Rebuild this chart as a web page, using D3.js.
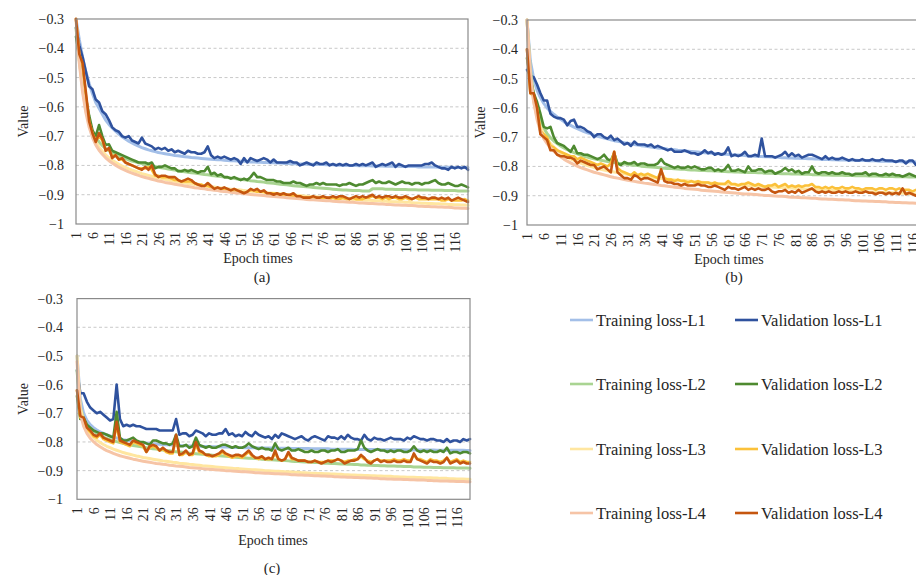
<!DOCTYPE html>
<html lang="en">
<head>
  <meta charset="UTF-8">
  <title>Training and validation loss</title>
  <script src="https://d3js.org/d3.v7.min.js"></script>
  <style>
    body {
      margin: 0;
      padding: 0;
      background: #fff;
    }
    svg text {
      font-family: "Liberation Serif", "Times New Roman", serif;
      fill: #262626;
    }
  </style>
</head>
<body>
  <svg id="chart" width="916" height="575"></svg>

  <script>
    const epochs = d3.range(1, 121);
    const xTickLabels = [1, 6, 11, 16, 21, 26, 31, 36, 41, 46, 51, 56, 61, 66, 71, 76, 81, 86, 91, 96, 101, 106, 111, 116];
    const yTicks = [-1, -0.9, -0.8, -0.7, -0.6, -0.5, -0.4, -0.3];
    const gridTicks = [-0.9, -0.8, -0.7, -0.6, -0.5, -0.4];

    const seriesNames = [
      "Training loss-L1", "Validation loss-L1",
      "Training loss-L2", "Validation loss-L2",
      "Training loss-L3", "Validation loss-L3",
      "Training loss-L4", "Validation loss-L4"
    ];
    const seriesColors = ["#a3bfe8", "#2f529e", "#a9d492", "#4e8a30", "#ffe6a0", "#fbc13a", "#f6c4a6", "#c5560f"];
    const panelLabels = ["(a)", "(b)", "(c)"];
    const serif = "'Liberation Serif', 'Times New Roman', serif";

    // ---- panel (a) ----
    const aTrain1 = [
      -0.300, -0.370, -0.430, -0.480, -0.520, -0.555, -0.585, -0.605, -0.625, -0.645,
      -0.660, -0.672, -0.683, -0.693, -0.702, -0.710, -0.717, -0.723, -0.729, -0.734,
      -0.739, -0.743, -0.747, -0.750, -0.753, -0.756, -0.758, -0.760, -0.762, -0.764,
      -0.766, -0.767, -0.769, -0.770, -0.771, -0.773, -0.774, -0.775, -0.776, -0.777,
      -0.778, -0.779, -0.780, -0.781, -0.781, -0.782, -0.783, -0.784, -0.784, -0.785,
      -0.786, -0.786, -0.787, -0.788, -0.788, -0.789, -0.789, -0.790, -0.790, -0.791,
      -0.791, -0.792, -0.792, -0.793, -0.793, -0.794, -0.794, -0.794, -0.795, -0.795,
      -0.796, -0.796, -0.796, -0.797, -0.797, -0.797, -0.798, -0.798, -0.798, -0.799,
      -0.799, -0.799, -0.800, -0.800, -0.800, -0.800, -0.801, -0.801, -0.801, -0.801,
      -0.802, -0.802, -0.802, -0.802, -0.803, -0.803, -0.803, -0.803, -0.803, -0.804,
      -0.804, -0.804, -0.804, -0.804, -0.805, -0.805, -0.805, -0.805, -0.805, -0.805,
      -0.806, -0.806, -0.806, -0.806, -0.806, -0.807, -0.807, -0.807, -0.807, -0.807
    ];
    const aValid1 = [
      -0.330, -0.390, -0.430, -0.480, -0.530, -0.540, -0.575, -0.585, -0.615, -0.625,
      -0.645, -0.670, -0.680, -0.685, -0.700, -0.705, -0.700, -0.715, -0.720, -0.725,
      -0.705, -0.725, -0.730, -0.735, -0.745, -0.740, -0.745, -0.740, -0.750, -0.745,
      -0.755, -0.750, -0.755, -0.760, -0.750, -0.755, -0.755, -0.760, -0.760, -0.755,
      -0.735, -0.765, -0.775, -0.770, -0.775, -0.770, -0.775, -0.780, -0.775, -0.780,
      -0.795, -0.775, -0.790, -0.775, -0.780, -0.785, -0.780, -0.775, -0.780, -0.790,
      -0.780, -0.790, -0.790, -0.790, -0.790, -0.785, -0.790, -0.790, -0.800, -0.795,
      -0.790, -0.795, -0.800, -0.790, -0.795, -0.795, -0.790, -0.800, -0.795, -0.800,
      -0.795, -0.800, -0.795, -0.800, -0.800, -0.795, -0.800, -0.795, -0.800, -0.795,
      -0.790, -0.805, -0.800, -0.795, -0.800, -0.795, -0.790, -0.805, -0.795, -0.800,
      -0.805, -0.800, -0.800, -0.800, -0.800, -0.800, -0.795, -0.795, -0.790, -0.800,
      -0.805, -0.810, -0.810, -0.815, -0.805, -0.810, -0.805, -0.810, -0.805, -0.815
    ];
    const aTrain2 = [
      -0.330, -0.440, -0.530, -0.600, -0.650, -0.685, -0.705, -0.720, -0.732, -0.742,
      -0.750, -0.757, -0.763, -0.768, -0.773, -0.777, -0.781, -0.785, -0.788, -0.791,
      -0.794, -0.797, -0.800, -0.802, -0.804, -0.806, -0.808, -0.810, -0.812, -0.814,
      -0.816, -0.818, -0.820, -0.822, -0.823, -0.825, -0.826, -0.828, -0.829, -0.831,
      -0.832, -0.834, -0.835, -0.837, -0.838, -0.840, -0.841, -0.843, -0.844, -0.846,
      -0.847, -0.849, -0.850, -0.852, -0.853, -0.855, -0.856, -0.857, -0.859, -0.860,
      -0.861, -0.863, -0.864, -0.865, -0.866, -0.868, -0.869, -0.870, -0.871, -0.872,
      -0.873, -0.874, -0.875, -0.876, -0.877, -0.878, -0.879, -0.880, -0.881, -0.882,
      -0.883, -0.884, -0.884, -0.885, -0.886, -0.886, -0.886, -0.887, -0.887, -0.887,
      -0.880, -0.880, -0.880, -0.880, -0.881, -0.881, -0.881, -0.882, -0.882, -0.882,
      -0.882, -0.883, -0.883, -0.883, -0.884, -0.884, -0.884, -0.884, -0.885, -0.885,
      -0.885, -0.885, -0.886, -0.886, -0.886, -0.886, -0.887, -0.887, -0.887, -0.887
    ];
    const aValid2 = [
      -0.360, -0.430, -0.500, -0.570, -0.630, -0.680, -0.700, -0.662, -0.700, -0.730,
      -0.728, -0.750, -0.755, -0.760, -0.765, -0.770, -0.775, -0.780, -0.785, -0.790,
      -0.790, -0.790, -0.795, -0.790, -0.810, -0.805, -0.805, -0.800, -0.805, -0.810,
      -0.810, -0.820, -0.820, -0.815, -0.820, -0.815, -0.820, -0.825, -0.820, -0.820,
      -0.805, -0.830, -0.825, -0.835, -0.830, -0.840, -0.840, -0.845, -0.840, -0.845,
      -0.850, -0.845, -0.850, -0.840, -0.825, -0.840, -0.840, -0.845, -0.850, -0.850,
      -0.850, -0.855, -0.855, -0.860, -0.860, -0.860, -0.855, -0.860, -0.860, -0.865,
      -0.870, -0.865, -0.865, -0.860, -0.865, -0.860, -0.865, -0.865, -0.865, -0.865,
      -0.870, -0.865, -0.865, -0.860, -0.865, -0.870, -0.865, -0.865, -0.860, -0.855,
      -0.850, -0.860, -0.855, -0.860, -0.860, -0.855, -0.860, -0.865, -0.860, -0.855,
      -0.860, -0.860, -0.865, -0.860, -0.860, -0.865, -0.860, -0.860, -0.855, -0.850,
      -0.860, -0.865, -0.865, -0.860, -0.865, -0.870, -0.870, -0.865, -0.870, -0.875
    ];
    const aTrain3 = [
      -0.300, -0.440, -0.540, -0.610, -0.660, -0.695, -0.720, -0.738, -0.752, -0.764,
      -0.774, -0.782, -0.789, -0.796, -0.802, -0.807, -0.812, -0.816, -0.820, -0.824,
      -0.828, -0.831, -0.834, -0.837, -0.840, -0.843, -0.845, -0.847, -0.850, -0.852,
      -0.854, -0.856, -0.858, -0.860, -0.862, -0.863, -0.865, -0.867, -0.868, -0.870,
      -0.871, -0.873, -0.874, -0.876, -0.877, -0.878, -0.880, -0.881, -0.882, -0.883,
      -0.884, -0.886, -0.887, -0.888, -0.889, -0.890, -0.891, -0.892, -0.893, -0.894,
      -0.895, -0.896, -0.897, -0.898, -0.899, -0.900, -0.901, -0.902, -0.903, -0.904,
      -0.905, -0.906, -0.907, -0.907, -0.908, -0.909, -0.910, -0.911, -0.911, -0.912,
      -0.913, -0.914, -0.914, -0.915, -0.916, -0.917, -0.917, -0.918, -0.919, -0.919,
      -0.920, -0.921, -0.921, -0.922, -0.922, -0.923, -0.924, -0.924, -0.925, -0.925,
      -0.926, -0.926, -0.927, -0.928, -0.928, -0.929, -0.929, -0.930, -0.930, -0.931,
      -0.931, -0.932, -0.932, -0.933, -0.933, -0.934, -0.934, -0.935, -0.935, -0.936
    ];
    const aValid3 = [
      -0.300, -0.420, -0.460, -0.560, -0.650, -0.690, -0.715, -0.700, -0.715, -0.745,
      -0.745, -0.770, -0.765, -0.780, -0.780, -0.790, -0.795, -0.800, -0.805, -0.810,
      -0.810, -0.810, -0.805, -0.815, -0.835, -0.835, -0.840, -0.840, -0.840, -0.845,
      -0.850, -0.850, -0.855, -0.855, -0.855, -0.855, -0.860, -0.865, -0.865, -0.870,
      -0.870, -0.875, -0.880, -0.880, -0.880, -0.885, -0.885, -0.885, -0.890, -0.890,
      -0.890, -0.895, -0.890, -0.885, -0.885, -0.890, -0.890, -0.890, -0.895, -0.895,
      -0.895, -0.900, -0.900, -0.900, -0.900, -0.905, -0.905, -0.905, -0.905, -0.910,
      -0.910, -0.910, -0.910, -0.910, -0.915, -0.910, -0.910, -0.915, -0.910, -0.915,
      -0.915, -0.910, -0.915, -0.915, -0.910, -0.915, -0.915, -0.915, -0.910, -0.910,
      -0.905, -0.910, -0.910, -0.915, -0.910, -0.915, -0.910, -0.910, -0.915, -0.915,
      -0.910, -0.915, -0.915, -0.910, -0.915, -0.915, -0.915, -0.915, -0.915, -0.915,
      -0.915, -0.920, -0.920, -0.915, -0.920, -0.920, -0.920, -0.920, -0.915, -0.920
    ];
    const aTrain4 = [
      -0.300, -0.450, -0.550, -0.620, -0.670, -0.705, -0.730, -0.748, -0.762, -0.774,
      -0.784, -0.792, -0.799, -0.806, -0.812, -0.817, -0.822, -0.826, -0.830, -0.834,
      -0.838, -0.841, -0.844, -0.847, -0.850, -0.853, -0.855, -0.858, -0.860, -0.862,
      -0.864, -0.866, -0.868, -0.870, -0.872, -0.874, -0.876, -0.877, -0.879, -0.880,
      -0.882, -0.883, -0.885, -0.886, -0.888, -0.889, -0.890, -0.892, -0.893, -0.894,
      -0.895, -0.897, -0.898, -0.899, -0.900, -0.901, -0.902, -0.903, -0.904, -0.905,
      -0.906, -0.907, -0.908, -0.909, -0.910, -0.911, -0.912, -0.913, -0.914, -0.915,
      -0.916, -0.917, -0.917, -0.918, -0.919, -0.920, -0.921, -0.921, -0.922, -0.923,
      -0.924, -0.924, -0.925, -0.926, -0.926, -0.927, -0.928, -0.928, -0.929, -0.930,
      -0.930, -0.931, -0.932, -0.932, -0.933, -0.933, -0.934, -0.935, -0.935, -0.936,
      -0.936, -0.937, -0.937, -0.938, -0.939, -0.939, -0.940, -0.940, -0.941, -0.941,
      -0.942, -0.942, -0.943, -0.943, -0.944, -0.945, -0.945, -0.946, -0.946, -0.947
    ];
    const aValid4 = [
      -0.300, -0.420, -0.450, -0.550, -0.650, -0.690, -0.720, -0.690, -0.710, -0.750,
      -0.740, -0.775, -0.765, -0.780, -0.775, -0.790, -0.795, -0.800, -0.805, -0.810,
      -0.815, -0.805, -0.815, -0.800, -0.830, -0.840, -0.835, -0.835, -0.840, -0.840,
      -0.840, -0.850, -0.855, -0.850, -0.845, -0.850, -0.860, -0.865, -0.870, -0.870,
      -0.860, -0.870, -0.880, -0.875, -0.880, -0.875, -0.880, -0.885, -0.880, -0.885,
      -0.890, -0.895, -0.890, -0.880, -0.885, -0.880, -0.890, -0.885, -0.895, -0.895,
      -0.900, -0.895, -0.900, -0.895, -0.900, -0.900, -0.895, -0.905, -0.905, -0.910,
      -0.910, -0.910, -0.905, -0.910, -0.910, -0.905, -0.910, -0.910, -0.905, -0.910,
      -0.905, -0.905, -0.910, -0.915, -0.910, -0.905, -0.910, -0.905, -0.910, -0.905,
      -0.900, -0.910, -0.905, -0.910, -0.905, -0.905, -0.910, -0.905, -0.910, -0.910,
      -0.905, -0.910, -0.915, -0.910, -0.905, -0.910, -0.910, -0.915, -0.910, -0.910,
      -0.915, -0.910, -0.915, -0.910, -0.920, -0.915, -0.910, -0.915, -0.920, -0.925
    ];

    // ---- panel (b) ----
    const bTrain1 = [
      -0.300, -0.440, -0.500, -0.540, -0.565, -0.585, -0.600, -0.612, -0.622, -0.631,
      -0.639, -0.647, -0.654, -0.660, -0.666, -0.671, -0.676, -0.681, -0.685, -0.689,
      -0.693, -0.697, -0.700, -0.703, -0.706, -0.709, -0.712, -0.714, -0.716, -0.719,
      -0.721, -0.723, -0.725, -0.727, -0.729, -0.730, -0.732, -0.734, -0.735, -0.737,
      -0.738, -0.739, -0.741, -0.742, -0.743, -0.745, -0.746, -0.747, -0.748, -0.749,
      -0.750, -0.751, -0.752, -0.753, -0.754, -0.755, -0.756, -0.757, -0.758, -0.758,
      -0.759, -0.760, -0.761, -0.761, -0.762, -0.763, -0.764, -0.764, -0.765, -0.766,
      -0.766, -0.767, -0.767, -0.768, -0.769, -0.769, -0.770, -0.770, -0.771, -0.771,
      -0.772, -0.772, -0.773, -0.773, -0.774, -0.774, -0.775, -0.775, -0.776, -0.776,
      -0.776, -0.777, -0.777, -0.778, -0.778, -0.778, -0.779, -0.779, -0.779, -0.780,
      -0.780, -0.780, -0.781, -0.781, -0.781, -0.782, -0.782, -0.782, -0.783, -0.783,
      -0.783, -0.783, -0.784, -0.784, -0.784, -0.784, -0.785, -0.785, -0.785, -0.785
    ];
    const bValid1 = [
      -0.470, -0.490, -0.495, -0.520, -0.550, -0.575, -0.575, -0.620, -0.630, -0.635,
      -0.635, -0.640, -0.660, -0.645, -0.640, -0.665, -0.665, -0.670, -0.680, -0.685,
      -0.700, -0.690, -0.690, -0.700, -0.705, -0.695, -0.710, -0.705, -0.715, -0.725,
      -0.720, -0.730, -0.715, -0.725, -0.725, -0.725, -0.730, -0.725, -0.735, -0.730,
      -0.735, -0.740, -0.745, -0.740, -0.750, -0.750, -0.750, -0.745, -0.750, -0.755,
      -0.755, -0.760, -0.755, -0.745, -0.755, -0.750, -0.760, -0.755, -0.760, -0.755,
      -0.735, -0.765, -0.760, -0.765, -0.760, -0.750, -0.765, -0.765, -0.760, -0.765,
      -0.705, -0.765, -0.765, -0.765, -0.770, -0.765, -0.760, -0.750, -0.765, -0.755,
      -0.765, -0.760, -0.770, -0.765, -0.760, -0.760, -0.765, -0.770, -0.775, -0.765,
      -0.775, -0.770, -0.775, -0.775, -0.770, -0.775, -0.780, -0.775, -0.780, -0.780,
      -0.775, -0.780, -0.780, -0.775, -0.780, -0.780, -0.775, -0.780, -0.780, -0.780,
      -0.785, -0.780, -0.780, -0.790, -0.780, -0.780, -0.795, -0.780, -0.790, -0.775
    ];
    const bTrain2 = [
      -0.300, -0.470, -0.560, -0.610, -0.645, -0.670, -0.688, -0.702, -0.713, -0.722,
      -0.730, -0.737, -0.743, -0.748, -0.753, -0.757, -0.761, -0.765, -0.768, -0.771,
      -0.774, -0.776, -0.779, -0.781, -0.783, -0.785, -0.787, -0.789, -0.790, -0.792,
      -0.793, -0.795, -0.796, -0.797, -0.799, -0.800, -0.801, -0.802, -0.803, -0.804,
      -0.805, -0.806, -0.807, -0.807, -0.808, -0.809, -0.810, -0.810, -0.811, -0.812,
      -0.812, -0.813, -0.814, -0.814, -0.815, -0.815, -0.816, -0.816, -0.817, -0.817,
      -0.818, -0.818, -0.819, -0.819, -0.820, -0.820, -0.821, -0.821, -0.821, -0.822,
      -0.822, -0.823, -0.823, -0.823, -0.824, -0.824, -0.825, -0.825, -0.825, -0.826,
      -0.826, -0.826, -0.827, -0.827, -0.827, -0.828, -0.828, -0.828, -0.829, -0.829,
      -0.829, -0.830, -0.830, -0.830, -0.830, -0.831, -0.831, -0.831, -0.832, -0.832,
      -0.832, -0.832, -0.833, -0.833, -0.833, -0.833, -0.834, -0.834, -0.834, -0.834,
      -0.835, -0.835, -0.835, -0.835, -0.836, -0.836, -0.836, -0.836, -0.837, -0.837
    ];
    const bValid2 = [
      -0.430, -0.500, -0.550, -0.580, -0.620, -0.665, -0.670, -0.665, -0.700, -0.720,
      -0.725, -0.730, -0.740, -0.750, -0.730, -0.755, -0.755, -0.760, -0.760, -0.765,
      -0.770, -0.775, -0.770, -0.760, -0.775, -0.780, -0.755, -0.790, -0.795, -0.785,
      -0.790, -0.790, -0.785, -0.795, -0.790, -0.790, -0.795, -0.795, -0.795, -0.790,
      -0.775, -0.790, -0.795, -0.800, -0.805, -0.800, -0.805, -0.805, -0.800, -0.805,
      -0.800, -0.805, -0.810, -0.810, -0.805, -0.805, -0.815, -0.810, -0.815, -0.810,
      -0.795, -0.815, -0.815, -0.810, -0.815, -0.820, -0.800, -0.815, -0.815, -0.810,
      -0.810, -0.820, -0.815, -0.815, -0.825, -0.820, -0.815, -0.805, -0.815, -0.810,
      -0.820, -0.815, -0.825, -0.820, -0.820, -0.800, -0.820, -0.825, -0.820, -0.820,
      -0.825, -0.820, -0.825, -0.825, -0.820, -0.825, -0.825, -0.830, -0.825, -0.825,
      -0.825, -0.820, -0.830, -0.825, -0.825, -0.830, -0.830, -0.825, -0.830, -0.825,
      -0.830, -0.830, -0.835, -0.830, -0.825, -0.830, -0.835, -0.830, -0.835, -0.835
    ];
    const bTrain3 = [
      -0.300, -0.500, -0.580, -0.630, -0.665, -0.690, -0.708, -0.722, -0.734, -0.744,
      -0.753, -0.761, -0.768, -0.774, -0.779, -0.784, -0.789, -0.793, -0.797, -0.800,
      -0.804, -0.807, -0.810, -0.812, -0.815, -0.817, -0.819, -0.821, -0.823, -0.825,
      -0.827, -0.829, -0.830, -0.832, -0.833, -0.835, -0.836, -0.838, -0.839, -0.840,
      -0.841, -0.843, -0.844, -0.845, -0.846, -0.847, -0.848, -0.849, -0.850, -0.851,
      -0.852, -0.853, -0.854, -0.855, -0.856, -0.857, -0.858, -0.858, -0.859, -0.860,
      -0.861, -0.862, -0.863, -0.863, -0.864, -0.865, -0.866, -0.866, -0.867, -0.868,
      -0.868, -0.869, -0.870, -0.870, -0.871, -0.872, -0.872, -0.873, -0.874, -0.874,
      -0.875, -0.875, -0.876, -0.877, -0.877, -0.878, -0.878, -0.879, -0.879, -0.880,
      -0.880, -0.881, -0.882, -0.882, -0.883, -0.883, -0.884, -0.884, -0.885, -0.885,
      -0.886, -0.886, -0.887, -0.887, -0.888, -0.888, -0.889, -0.889, -0.890, -0.890,
      -0.891, -0.891, -0.892, -0.892, -0.893, -0.893, -0.894, -0.894, -0.895, -0.895
    ];
    const bValid3 = [
      -0.400, -0.550, -0.560, -0.600, -0.680, -0.690, -0.700, -0.730, -0.735, -0.745,
      -0.750, -0.755, -0.760, -0.765, -0.765, -0.775, -0.770, -0.775, -0.780, -0.785,
      -0.790, -0.795, -0.790, -0.795, -0.800, -0.790, -0.750, -0.805, -0.815, -0.820,
      -0.825, -0.830, -0.820, -0.830, -0.825, -0.830, -0.825, -0.830, -0.835, -0.840,
      -0.815, -0.840, -0.845, -0.845, -0.850, -0.845, -0.850, -0.850, -0.855, -0.850,
      -0.855, -0.850, -0.855, -0.855, -0.855, -0.860, -0.855, -0.860, -0.860, -0.860,
      -0.850, -0.860, -0.860, -0.865, -0.860, -0.860, -0.855, -0.860, -0.865, -0.860,
      -0.865, -0.870, -0.865, -0.865, -0.860, -0.870, -0.865, -0.860, -0.870, -0.865,
      -0.870, -0.865, -0.870, -0.865, -0.865, -0.860, -0.870, -0.870, -0.875, -0.870,
      -0.875, -0.870, -0.875, -0.875, -0.870, -0.875, -0.875, -0.870, -0.875, -0.875,
      -0.880, -0.875, -0.875, -0.875, -0.880, -0.875, -0.875, -0.880, -0.875, -0.875,
      -0.880, -0.875, -0.880, -0.880, -0.880, -0.885, -0.880, -0.880, -0.880, -0.885
    ];
    const bTrain4 = [
      -0.300, -0.480, -0.580, -0.640, -0.680, -0.705, -0.722, -0.736, -0.748, -0.758,
      -0.767, -0.775, -0.782, -0.788, -0.794, -0.799, -0.804, -0.808, -0.812, -0.816,
      -0.820, -0.823, -0.826, -0.829, -0.832, -0.835, -0.838, -0.840, -0.842, -0.845,
      -0.847, -0.849, -0.851, -0.853, -0.855, -0.857, -0.858, -0.860, -0.862, -0.863,
      -0.865, -0.866, -0.868, -0.869, -0.871, -0.872, -0.873, -0.875, -0.876, -0.877,
      -0.878, -0.879, -0.881, -0.882, -0.883, -0.884, -0.885, -0.886, -0.887, -0.888,
      -0.889, -0.890, -0.891, -0.892, -0.893, -0.894, -0.894, -0.895, -0.896, -0.897,
      -0.898, -0.899, -0.899, -0.900, -0.901, -0.902, -0.902, -0.903, -0.904, -0.905,
      -0.905, -0.906, -0.907, -0.907, -0.908, -0.909, -0.909, -0.910, -0.911, -0.911,
      -0.912, -0.912, -0.913, -0.914, -0.914, -0.915, -0.915, -0.916, -0.917, -0.917,
      -0.918, -0.918, -0.919, -0.919, -0.920, -0.920, -0.921, -0.921, -0.922, -0.922,
      -0.923, -0.923, -0.924, -0.924, -0.925, -0.925, -0.926, -0.926, -0.927, -0.927
    ];
    const bValid4 = [
      -0.400, -0.550, -0.550, -0.600, -0.690, -0.700, -0.710, -0.745, -0.745, -0.760,
      -0.765, -0.765, -0.770, -0.770, -0.775, -0.790, -0.780, -0.785, -0.790, -0.795,
      -0.795, -0.810, -0.805, -0.800, -0.810, -0.820, -0.750, -0.820, -0.830, -0.840,
      -0.840, -0.845, -0.830, -0.835, -0.845, -0.840, -0.840, -0.845, -0.850, -0.855,
      -0.810, -0.850, -0.855, -0.855, -0.860, -0.860, -0.865, -0.860, -0.865, -0.865,
      -0.865, -0.860, -0.865, -0.865, -0.870, -0.870, -0.865, -0.870, -0.875, -0.880,
      -0.870, -0.875, -0.875, -0.880, -0.875, -0.870, -0.880, -0.875, -0.880, -0.875,
      -0.880, -0.880, -0.875, -0.885, -0.890, -0.885, -0.885, -0.880, -0.890, -0.885,
      -0.890, -0.880, -0.890, -0.885, -0.880, -0.875, -0.885, -0.890, -0.885, -0.890,
      -0.885, -0.890, -0.890, -0.885, -0.890, -0.885, -0.890, -0.890, -0.885, -0.890,
      -0.890, -0.885, -0.890, -0.890, -0.895, -0.890, -0.890, -0.895, -0.890, -0.895,
      -0.890, -0.895, -0.875, -0.895, -0.890, -0.895, -0.900, -0.895, -0.890, -0.895
    ];

    // ---- panel (c) ----
    const cTrain1 = [
      -0.500, -0.650, -0.700, -0.725, -0.740, -0.750, -0.758, -0.765, -0.770, -0.775,
      -0.779, -0.783, -0.786, -0.789, -0.792, -0.794, -0.796, -0.798, -0.800, -0.801,
      -0.803, -0.804, -0.805, -0.806, -0.807, -0.808, -0.809, -0.810, -0.810, -0.811,
      -0.812, -0.812, -0.813, -0.813, -0.814, -0.814, -0.815, -0.815, -0.816, -0.816,
      -0.816, -0.817, -0.817, -0.817, -0.818, -0.818, -0.818, -0.819, -0.819, -0.819,
      -0.819, -0.820, -0.820, -0.820, -0.820, -0.821, -0.821, -0.821, -0.821, -0.821,
      -0.822, -0.822, -0.822, -0.822, -0.822, -0.823, -0.823, -0.823, -0.823, -0.823,
      -0.823, -0.824, -0.824, -0.824, -0.824, -0.824, -0.824, -0.825, -0.825, -0.825,
      -0.825, -0.825, -0.825, -0.825, -0.826, -0.826, -0.826, -0.826, -0.826, -0.826,
      -0.826, -0.826, -0.827, -0.827, -0.827, -0.827, -0.827, -0.827, -0.827, -0.827,
      -0.828, -0.828, -0.828, -0.828, -0.828, -0.828, -0.828, -0.828, -0.828, -0.829,
      -0.829, -0.829, -0.829, -0.829, -0.829, -0.829, -0.829, -0.829, -0.830, -0.830
    ];
    const cValid1 = [
      -0.550, -0.630, -0.630, -0.660, -0.680, -0.690, -0.700, -0.695, -0.705, -0.715,
      -0.725, -0.720, -0.600, -0.720, -0.745, -0.740, -0.745, -0.740, -0.745, -0.745,
      -0.750, -0.755, -0.755, -0.755, -0.755, -0.760, -0.760, -0.760, -0.760, -0.760,
      -0.720, -0.775, -0.770, -0.770, -0.780, -0.775, -0.760, -0.765, -0.770, -0.780,
      -0.770, -0.775, -0.775, -0.770, -0.770, -0.755, -0.775, -0.770, -0.780, -0.775,
      -0.780, -0.765, -0.775, -0.780, -0.765, -0.775, -0.780, -0.785, -0.780, -0.790,
      -0.775, -0.785, -0.770, -0.775, -0.780, -0.785, -0.790, -0.785, -0.780, -0.790,
      -0.795, -0.785, -0.780, -0.785, -0.790, -0.795, -0.780, -0.785, -0.785, -0.790,
      -0.780, -0.790, -0.775, -0.785, -0.790, -0.790, -0.795, -0.775, -0.790, -0.795,
      -0.785, -0.790, -0.790, -0.795, -0.790, -0.785, -0.790, -0.790, -0.790, -0.795,
      -0.785, -0.790, -0.780, -0.785, -0.790, -0.790, -0.795, -0.790, -0.790, -0.795,
      -0.795, -0.800, -0.790, -0.800, -0.795, -0.795, -0.800, -0.790, -0.795, -0.790
    ];
    const cTrain2 = [
      -0.550, -0.680, -0.720, -0.740, -0.752, -0.762, -0.770, -0.777, -0.783, -0.788,
      -0.792, -0.796, -0.799, -0.802, -0.805, -0.808, -0.810, -0.812, -0.814, -0.816,
      -0.818, -0.820, -0.822, -0.824, -0.825, -0.827, -0.828, -0.830, -0.831, -0.833,
      -0.834, -0.835, -0.836, -0.838, -0.839, -0.840, -0.841, -0.842, -0.843, -0.844,
      -0.845, -0.846, -0.847, -0.848, -0.849, -0.850, -0.851, -0.852, -0.853, -0.854,
      -0.855, -0.856, -0.857, -0.857, -0.858, -0.859, -0.860, -0.861, -0.862, -0.862,
      -0.863, -0.864, -0.865, -0.865, -0.866, -0.867, -0.868, -0.868, -0.869, -0.870,
      -0.870, -0.871, -0.872, -0.872, -0.873, -0.874, -0.874, -0.875, -0.875, -0.876,
      -0.877, -0.877, -0.878, -0.878, -0.879, -0.879, -0.880, -0.880, -0.881, -0.881,
      -0.882, -0.882, -0.883, -0.883, -0.884, -0.884, -0.884, -0.885, -0.885, -0.886,
      -0.886, -0.886, -0.887, -0.887, -0.887, -0.888, -0.888, -0.888, -0.889, -0.889,
      -0.889, -0.890, -0.890, -0.890, -0.890, -0.891, -0.891, -0.891, -0.891, -0.892
    ];
    const cValid2 = [
      -0.640, -0.720, -0.715, -0.740, -0.750, -0.760, -0.765, -0.770, -0.770, -0.775,
      -0.780, -0.785, -0.695, -0.785, -0.795, -0.795, -0.790, -0.785, -0.795, -0.800,
      -0.800, -0.805, -0.810, -0.795, -0.795, -0.800, -0.805, -0.805, -0.810, -0.805,
      -0.775, -0.815, -0.815, -0.810, -0.820, -0.815, -0.785, -0.810, -0.815, -0.820,
      -0.815, -0.820, -0.820, -0.815, -0.810, -0.810, -0.815, -0.820, -0.815, -0.820,
      -0.820, -0.815, -0.805, -0.815, -0.820, -0.825, -0.820, -0.825, -0.825, -0.830,
      -0.805, -0.825, -0.830, -0.825, -0.820, -0.830, -0.830, -0.825, -0.830, -0.835,
      -0.835, -0.830, -0.835, -0.835, -0.830, -0.830, -0.835, -0.830, -0.830, -0.825,
      -0.835, -0.835, -0.830, -0.830, -0.830, -0.825, -0.795, -0.820, -0.830, -0.835,
      -0.830, -0.825, -0.830, -0.830, -0.835, -0.830, -0.835, -0.830, -0.830, -0.835,
      -0.835, -0.830, -0.815, -0.830, -0.835, -0.830, -0.835, -0.830, -0.835, -0.835,
      -0.830, -0.835, -0.820, -0.840, -0.835, -0.835, -0.840, -0.835, -0.835, -0.840
    ];
    const cTrain3 = [
      -0.500, -0.680, -0.730, -0.755, -0.772, -0.784, -0.794, -0.802, -0.809, -0.815,
      -0.820, -0.825, -0.829, -0.833, -0.837, -0.840, -0.843, -0.846, -0.849, -0.851,
      -0.854, -0.856, -0.858, -0.860, -0.862, -0.864, -0.866, -0.867, -0.869, -0.871,
      -0.872, -0.874, -0.875, -0.876, -0.878, -0.879, -0.880, -0.881, -0.883, -0.884,
      -0.885, -0.886, -0.887, -0.888, -0.889, -0.890, -0.891, -0.892, -0.893, -0.893,
      -0.894, -0.895, -0.896, -0.897, -0.897, -0.898, -0.899, -0.900, -0.900, -0.901,
      -0.902, -0.902, -0.903, -0.904, -0.904, -0.905, -0.906, -0.906, -0.907, -0.907,
      -0.908, -0.909, -0.909, -0.910, -0.910, -0.911, -0.911, -0.912, -0.912, -0.913,
      -0.913, -0.914, -0.914, -0.915, -0.915, -0.916, -0.916, -0.917, -0.917, -0.918,
      -0.918, -0.919, -0.919, -0.920, -0.920, -0.920, -0.921, -0.921, -0.922, -0.922,
      -0.923, -0.923, -0.923, -0.924, -0.924, -0.925, -0.925, -0.925, -0.926, -0.926,
      -0.927, -0.927, -0.927, -0.928, -0.928, -0.929, -0.929, -0.929, -0.930, -0.930
    ];
    const cValid3 = [
      -0.620, -0.715, -0.720, -0.755, -0.765, -0.780, -0.785, -0.775, -0.790, -0.795,
      -0.800, -0.805, -0.740, -0.800, -0.805, -0.810, -0.815, -0.800, -0.805, -0.810,
      -0.815, -0.835, -0.820, -0.815, -0.820, -0.830, -0.825, -0.835, -0.840, -0.840,
      -0.785, -0.845, -0.845, -0.835, -0.845, -0.845, -0.810, -0.835, -0.840, -0.845,
      -0.850, -0.850, -0.850, -0.845, -0.835, -0.845, -0.850, -0.855, -0.850, -0.850,
      -0.855, -0.845, -0.835, -0.850, -0.855, -0.860, -0.855, -0.860, -0.860, -0.860,
      -0.840, -0.860, -0.865, -0.860, -0.840, -0.860, -0.860, -0.865, -0.865, -0.865,
      -0.870, -0.870, -0.865, -0.870, -0.870, -0.870, -0.865, -0.865, -0.865, -0.860,
      -0.865, -0.870, -0.865, -0.865, -0.860, -0.860, -0.850, -0.860, -0.865, -0.870,
      -0.865, -0.860, -0.865, -0.865, -0.865, -0.865, -0.860, -0.865, -0.865, -0.860,
      -0.865, -0.865, -0.845, -0.860, -0.860, -0.865, -0.870, -0.860, -0.865, -0.865,
      -0.870, -0.865, -0.855, -0.870, -0.865, -0.860, -0.870, -0.865, -0.870, -0.870
    ];
    const cTrain4 = [
      -0.520, -0.700, -0.745, -0.770, -0.787, -0.799, -0.809, -0.817, -0.824, -0.830,
      -0.835, -0.840, -0.844, -0.848, -0.851, -0.854, -0.857, -0.860, -0.862, -0.865,
      -0.867, -0.869, -0.871, -0.873, -0.875, -0.876, -0.878, -0.879, -0.881, -0.882,
      -0.884, -0.885, -0.886, -0.887, -0.889, -0.890, -0.891, -0.892, -0.893, -0.894,
      -0.895, -0.896, -0.897, -0.898, -0.899, -0.900, -0.900, -0.901, -0.902, -0.903,
      -0.904, -0.904, -0.905, -0.906, -0.907, -0.907, -0.908, -0.909, -0.909, -0.910,
      -0.911, -0.911, -0.912, -0.912, -0.913, -0.914, -0.914, -0.915, -0.915, -0.916,
      -0.916, -0.917, -0.918, -0.918, -0.919, -0.919, -0.920, -0.920, -0.921, -0.921,
      -0.922, -0.922, -0.923, -0.923, -0.924, -0.924, -0.925, -0.925, -0.926, -0.926,
      -0.927, -0.927, -0.928, -0.928, -0.929, -0.929, -0.930, -0.930, -0.930, -0.931,
      -0.931, -0.932, -0.932, -0.933, -0.933, -0.933, -0.934, -0.934, -0.935, -0.935,
      -0.936, -0.936, -0.936, -0.937, -0.937, -0.938, -0.938, -0.938, -0.939, -0.939
    ];
    const cValid4 = [
      -0.620, -0.710, -0.715, -0.750, -0.760, -0.775, -0.780, -0.770, -0.785, -0.790,
      -0.795, -0.800, -0.730, -0.795, -0.800, -0.805, -0.810, -0.795, -0.800, -0.805,
      -0.810, -0.835, -0.815, -0.810, -0.815, -0.830, -0.820, -0.830, -0.835, -0.835,
      -0.775, -0.845, -0.840, -0.830, -0.845, -0.840, -0.800, -0.830, -0.835, -0.845,
      -0.845, -0.850, -0.845, -0.840, -0.830, -0.840, -0.845, -0.850, -0.845, -0.845,
      -0.850, -0.840, -0.830, -0.845, -0.855, -0.855, -0.850, -0.860, -0.855, -0.860,
      -0.830, -0.860, -0.865, -0.860, -0.835, -0.855, -0.860, -0.865, -0.865, -0.865,
      -0.870, -0.870, -0.865, -0.870, -0.875, -0.870, -0.865, -0.870, -0.865, -0.860,
      -0.865, -0.875, -0.870, -0.865, -0.865, -0.860, -0.845, -0.855, -0.870, -0.875,
      -0.865, -0.860, -0.870, -0.865, -0.870, -0.870, -0.865, -0.870, -0.870, -0.865,
      -0.870, -0.870, -0.840, -0.860, -0.865, -0.870, -0.875, -0.865, -0.870, -0.870,
      -0.875, -0.870, -0.855, -0.875, -0.870, -0.865, -0.875, -0.870, -0.875, -0.875
    ];

    const panelSeries = [
      [aTrain1, aValid1, aTrain2, aValid2, aTrain3, aValid3, aTrain4, aValid4],
      [bTrain1, bValid1, bTrain2, bValid2, bTrain3, bValid3, bTrain4, bValid4],
      [cTrain1, cValid1, cTrain2, cValid2, cTrain3, cValid3, cTrain4, cValid4]
    ];

    // plot boxes
    const panels = [
      { left: 76, right: 468, top: 19, bottom: 224, labelGap: 12, valueX: 23, epochX: 258, epochY: 263, capX: 262, capY: 282 },
      { left: 527, right: 926, top: 20, bottom: 225, labelGap: 9, valueX: 480, epochX: 729, epochY: 264, capX: 734, capY: 282 },
      { left: 77, right: 470, top: 298.6, bottom: 499.3, labelGap: 14, valueX: 23, epochX: 273, epochY: 545, capX: 272, capY: 573 }
    ];

    const svg = d3.select("#chart").attr("font-family", serif);

    panels.forEach((p, i) => {
      const x = d3.scalePoint().domain(epochs).range([p.left, p.right]);
      const y = d3.scaleLinear().domain([-1, -0.3]).range([p.bottom, p.top]);
      const g = svg.append("g");

      // dashed gridlines
      g.selectAll(".grid")
        .data(gridTicks)
        .join("line")
        .attr("x1", p.left)
        .attr("x2", p.right)
        .attr("y1", d => y(d))
        .attr("y2", d => y(d))
        .attr("stroke", "#c9c9c9")
        .attr("stroke-width", 1)
        .attr("stroke-dasharray", "3,2.5");

      // y axis labels
      const yAxis = g.append("g")
        .attr("transform", `translate(${p.left},0)`)
        .call(d3.axisLeft(y).tickValues(yTicks).tickSize(0).tickPadding(p.labelGap)
          .tickFormat(d => d3.format("")(+d.toFixed(1))));
      yAxis.attr("font-family", serif);
      yAxis.select(".domain").remove();
      yAxis.selectAll("text")
        .style("font-family", serif)
        .style("font-size", "14px")
        .attr("fill", "#262626");

      // x axis labels, rotated
      const xAxis = g.append("g")
        .attr("transform", `translate(0,${p.bottom})`)
        .call(d3.axisBottom(x).tickValues(xTickLabels).tickSize(0));
      xAxis.attr("font-family", serif);
      xAxis.select(".domain").remove();
      xAxis.selectAll("text")
        .style("font-family", serif)
        .style("font-size", "14px")
        .attr("fill", "#262626")
        .attr("transform", "rotate(-90)")
        .attr("x", -8)
        .attr("y", 0)
        .attr("dy", "0.35em")
        .style("text-anchor", "end");

      // lines
      const line = d3.line()
        .x((d, k) => x(epochs[k]))
        .y(d => y(d));

      g.selectAll(".series")
        .data(panelSeries[i])
        .join("path")
        .attr("d", line)
        .attr("fill", "none")
        .attr("stroke", (d, k) => seriesColors[k])
        .attr("stroke-width", (d, k) => k % 2 === 0 ? 3 : 2.6)
        .attr("stroke-linejoin", "round")
        .attr("stroke-linecap", "round");

      // plot frame
      g.append("rect")
        .attr("x", p.left)
        .attr("y", p.top)
        .attr("width", p.right - p.left)
        .attr("height", p.bottom - p.top)
        .attr("fill", "none")
        .attr("stroke", "#8a8a8a")
        .attr("stroke-width", 1.2);

      g.append("text")
        .attr("transform", `translate(${p.valueX},${(p.top + p.bottom) / 2}) rotate(-90)`)
        .attr("text-anchor", "middle")
        .attr("dy", "0.35em")
        .style("font-size", "14px")
        .text("Value");

      g.append("text")
        .attr("x", p.epochX)
        .attr("y", p.epochY)
        .attr("text-anchor", "middle")
        .style("font-size", "14px")
        .text("Epoch times");

      g.append("text")
        .attr("x", p.capX)
        .attr("y", p.capY)
        .attr("text-anchor", "middle")
        .style("font-size", "15px")
        .text(panelLabels[i]);
    });

    // legend, two columns: training / validation
    const legendRows = [320, 384, 449, 513];
    const legendCols = [570, 735];
    const legend = svg.append("g");
    seriesNames.forEach((name, k) => {
      const lx = legendCols[k % 2];
      const ly = legendRows[Math.floor(k / 2)];
      legend.append("line")
        .attr("x1", lx).attr("x2", lx + 23)
        .attr("y1", ly).attr("y2", ly)
        .attr("stroke", seriesColors[k])
        .attr("stroke-width", 2.6);
      legend.append("text")
        .attr("x", lx + 26)
        .attr("y", ly + 5.5)
        .style("font-size", "16.5px")
        .text(name);
    });
  </script>
</body>
</html>
